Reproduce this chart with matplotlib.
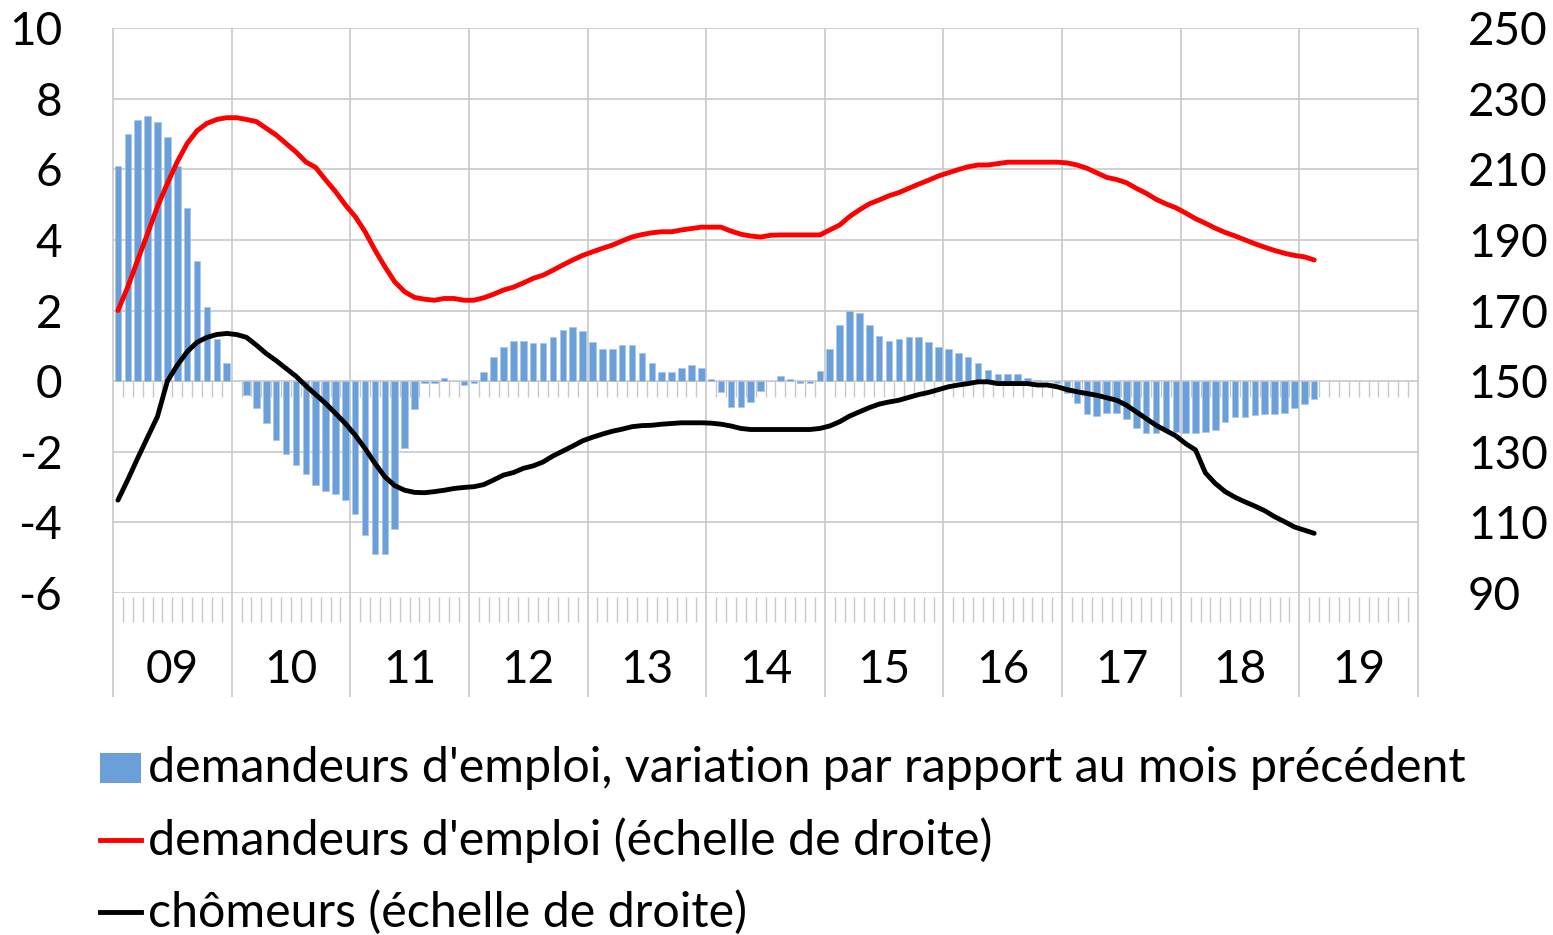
import matplotlib
matplotlib.use("Agg")
import matplotlib.pyplot as plt
import matplotlib.transforms as mtransforms
from matplotlib.lines import Line2D
from matplotlib.patches import Rectangle

# ---- data (monthly, Jan 2009 - Feb 2019) ----
years = ["09", "10", "11", "12", "13", "14", "15", "16", "17", "18", "19"]
months_per_year = 12

variation = [
    6.1, 7.0, 7.4, 7.5, 7.35, 6.9, 6.1, 4.9, 3.4, 2.1, 1.2, 0.5,
    0.0, -0.4, -0.75, -1.18, -1.67, -2.07, -2.37, -2.63, -2.94, -3.1, -3.2, -3.37,
    -3.77, -4.37, -4.9, -4.9, -4.2, -1.88, -0.8, -0.05, -0.05, 0.1, 0.0, -0.1,
    -0.05, 0.25, 0.67, 0.97, 1.15, 1.15, 1.07, 1.07, 1.24, 1.45, 1.54, 1.42,
    1.11, 0.9, 0.9, 1.02, 1.02, 0.81, 0.5, 0.25, 0.25, 0.38, 0.45, 0.38,
    0.06, -0.32, -0.72, -0.72, -0.59, -0.27, 0.0, 0.15, 0.07, -0.06, -0.06, 0.28,
    0.9, 1.59, 1.98, 1.94, 1.59, 1.28, 1.15, 1.2, 1.24, 1.25, 1.1, 0.98,
    0.9, 0.8, 0.67, 0.5, 0.32, 0.19, 0.19, 0.19, 0.1, 0.02, 0.0, -0.05,
    -0.35, -0.63, -0.92, -0.98, -0.9, -0.9, -1.06, -1.32, -1.46, -1.46, -1.41, -1.43,
    -1.48, -1.48, -1.45, -1.37, -1.15, -1.01, -1.01, -0.96, -0.93, -0.93, -0.9, -0.75,
    -0.66, -0.52,
]

demandeurs = [
    170.0, 176.7, 184.3, 191.8, 199.4, 206.0, 212.1, 217.3, 220.9, 223.0, 224.1, 224.6,
    224.6, 224.1, 223.5, 221.6, 219.7, 217.3, 214.9, 212.1, 210.5, 207.0, 203.7, 199.9,
    196.6, 192.3, 187.1, 182.4, 178.1, 175.3, 173.7, 173.2, 172.9, 173.4, 173.4, 172.9,
    172.9, 173.6, 174.6, 175.8, 176.6, 177.8, 179.1, 180.0, 181.4, 182.9, 184.3, 185.6,
    186.6, 187.6, 188.5, 189.7, 190.8, 191.5, 192.0, 192.3, 192.3, 192.8, 193.2, 193.6,
    193.6, 193.6, 192.5, 191.6, 191.1, 190.8, 191.3, 191.4, 191.4, 191.4, 191.4, 191.4,
    192.8, 194.2, 196.6, 198.5, 200.2, 201.3, 202.5, 203.4, 204.6, 205.8, 206.9, 208.1,
    209.0, 209.9, 210.7, 211.2, 211.2, 211.6, 212.0, 212.0, 212.0, 212.0, 212.0, 212.0,
    211.8, 211.2, 210.3, 209.0, 207.7, 207.1, 206.2, 204.6, 203.2, 201.5, 200.2, 199.1,
    197.6, 196.0, 194.7, 193.3, 192.1, 191.1, 190.0, 188.9, 187.9, 187.0, 186.2, 185.6,
    185.2, 184.3,
]

chomeurs = [
    116.3, 122.1, 128.2, 134.1, 140.0, 150.0, 154.5, 158.3, 161.0, 162.4, 163.2, 163.5,
    163.2, 162.4, 160.2, 157.8, 155.8, 153.6, 151.4, 148.7, 146.2, 143.7, 140.9, 138.0,
    134.7, 130.9, 126.7, 122.9, 120.4, 119.1, 118.5, 118.4, 118.7, 119.1, 119.6, 119.9,
    120.1, 120.7, 122.0, 123.4, 124.1, 125.3, 126.0, 127.1, 128.8, 130.2, 131.6, 133.1,
    134.1, 135.0, 135.8, 136.4, 137.1, 137.4, 137.5, 137.8, 138.0, 138.2, 138.2, 138.2,
    138.1, 137.8, 137.3, 136.6, 136.3, 136.3, 136.3, 136.3, 136.3, 136.3, 136.3, 136.6,
    137.3, 138.5, 140.1, 141.3, 142.5, 143.5, 144.1, 144.6, 145.4, 146.2, 146.8, 147.6,
    148.4, 148.9, 149.3, 149.8, 149.8, 149.3, 149.3, 149.3, 149.3, 148.9, 148.9, 148.4,
    147.6, 147.0, 146.5, 146.0, 145.3, 144.6, 143.2, 141.3, 139.4, 137.5, 136.0, 134.5,
    132.3, 130.5, 124.0, 121.0, 118.7, 117.1, 115.8, 114.6, 113.3, 111.6, 110.2, 108.7,
    107.8, 106.9,
]

left_ticks = [-6, -4, -2, 0, 2, 4, 6, 8, 10]
right_ticks = [90, 110, 130, 150, 170, 190, 210, 230, 250]

labels = [
    "demandeurs d'emploi, variation par rapport au mois précédent",
    "demandeurs d'emploi (échelle de droite)",
    "chômeurs (échelle de droite)",
]

# ---- style ----
FONT = "Lato"
FS = 33
FS_LEG = 34.8
LW = 3.5
BAR = "#6a9fda"
GRID = "#c8c8c8"
plt.rcParams["font.family"] = [FONT, "DejaVu Sans"]

W, H = 1553, 935
fig = plt.figure(figsize=(W / 100, H / 100), dpi=100)
L, R, T, B = 113, 1418, 28, 593
ax = fig.add_axes([L / W, 1 - B / H, (R - L) / W, (B - T) / H])
ax2 = ax.twinx()

n_cat = months_per_year * len(years)
x = [i + 0.5 for i in range(len(variation))]

ax.set_xlim(0, n_cat)
ax.set_ylim(left_ticks[0], left_ticks[-1])
ax2.set_ylim(right_ticks[0], right_ticks[-1])

# horizontal gridlines
for v in left_ticks:
    ax.axhline(v, color=GRID, lw=1.2, zorder=0)

# year separators, running down through the category band
trans = mtransforms.blended_transform_factory(ax.transData, ax.transAxes)
px = 1.0 / (B - T)
ax.vlines([k * months_per_year for k in range(len(years) + 1)], -104 * px, 1,
          transform=trans, colors=GRID, lw=1.2, clip_on=False, zorder=0)

# month tick marks: under the zero line and in the category band
minor = [m for m in range(1, n_cat) if m % months_per_year]
zero_tick = 16 / ((B - T) / (left_ticks[-1] - left_ticks[0]))
ax.vlines(minor, -zero_tick, 0, colors=GRID, lw=1.0, zorder=0)
ax.vlines(minor, -29 * px, -4 * px, transform=trans, colors=GRID, lw=1.0,
          clip_on=False, zorder=0)

# bars and lines
ax.bar(x, variation, width=0.66, color=BAR, edgecolor="#a7c6ec", lw=0.5, zorder=2)
ax2.plot(x, demandeurs, color="#ff0000", lw=LW, solid_capstyle="round",
         solid_joinstyle="round", zorder=3)
ax2.plot(x, chomeurs, color="#000000", lw=LW, solid_capstyle="round",
         solid_joinstyle="round", zorder=3)

# axes decoration
for a in (ax, ax2):
    for s in a.spines.values():
        s.set_visible(False)
    a.set_xticks([])
ax.set_yticks(left_ticks)
ax.set_yticklabels([str(v) for v in left_ticks])
ax2.set_yticks(right_ticks)
ax2.set_yticklabels([str(v) for v in right_ticks])
ax.tick_params(axis="y", length=0, pad=36.5, labelsize=FS, labelcolor="black")
ax2.tick_params(axis="y", length=0, pad=36, labelsize=FS, labelcolor="black")

# year labels
for k, yl in enumerate(years):
    ax.text(k * months_per_year + months_per_year / 2, -77 * px, yl, transform=trans,
            ha="center", va="center", fontsize=FS)

# legend
def fy(p):
    return 1 - p / H

fig.patches.append(Rectangle((100 / W, fy(783)), 41 / W, 30 / H, transform=fig.transFigure,
                             facecolor=BAR, edgecolor="none"))
fig.lines.append(Line2D([100 / W, 141 / W], [fy(840), fy(840)], transform=fig.transFigure,
                        color="#ff0000", lw=LW))
fig.lines.append(Line2D([100 / W, 141 / W], [fy(912), fy(912)], transform=fig.transFigure,
                        color="#000000", lw=LW))
for yy, txt in zip([768, 840, 912], labels):
    fig.text(148 / W, fy(yy), txt, ha="left", va="center", fontsize=FS_LEG)

fig.savefig("out.png", dpi=100)
